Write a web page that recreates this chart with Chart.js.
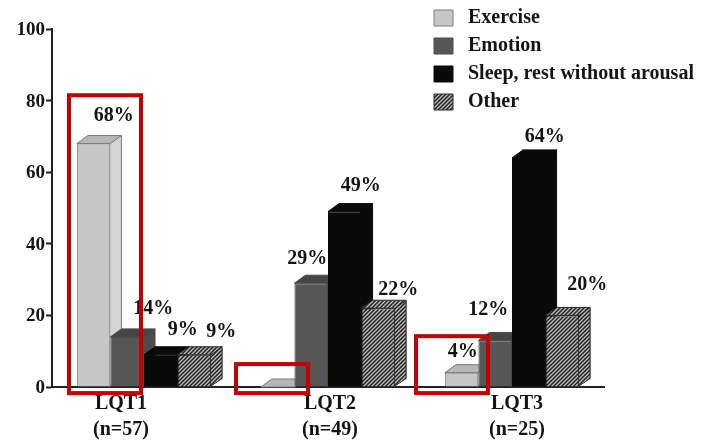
<!DOCTYPE html>
<html><head><meta charset="utf-8">
<script src="https://cdn.jsdelivr.net/npm/chart.js@4"></script>
<style>html,body{margin:0;padding:0;background:#fff}#w{width:711px;height:441px}</style>
</head><body><div id="w"><canvas id="c"></canvas></div>
<script>
const categories = [["LQT1","(n=57)"],["LQT2","(n=49)"],["LQT3","(n=25)"]];
const seriesNames = ["Exercise","Emotion","Sleep, rest without arousal","Other"];
const exercise = [68,0,4];
const emotion = [14,29,13];
const sleep = [9,49,64];
const other = [9,22,20];
const exerciseLabels = ["68%","","4%"];
const emotionLabels = ["14%","29%","12%"];
const sleepLabels = ["9%","49%","64%"];
const otherLabels = ["9%","22%","20%"];
const yTicks = [0,20,40,60,80,100];

const FONT = "'Liberation Serif'";
const INK = "#141414";
function hatch(){
  const s=4,p=document.createElement('canvas');p.width=p.height=s;
  const g=p.getContext('2d');g.fillStyle='#bcbcbc';g.fillRect(0,0,s,s);
  g.strokeStyle='#222222';g.lineWidth=1.5;
  g.beginPath();g.moveTo(-1,s+1);g.lineTo(s+1,-1);g.moveTo(-1,1);g.lineTo(1,-1);g.moveTo(s-1,s+1);g.lineTo(s+1,s-1);g.stroke();
  return g.createPattern(p,'repeat');
}
const hatchFill = hatch();
const faces = [
 {front:'#c6c6c6',top:'#b6b6b6',side:'#d4d4d4',line:'#7c7c7c'},
 {front:'#565656',top:'#454545',side:'#4c4c4c',line:'#4a4a4a'},
 {front:'#0a0a0a',top:'#0a0a0a',side:'#0a0a0a',line:'#0a0a0a'},
 {front:hatchFill,top:hatchFill,side:hatchFill,line:'#2a2a2a'}
];
const values=[exercise,emotion,sleep,other];
const labels=[exerciseLabels,emotionLabels,sleepLabels,otherLabels];
const DX=11,DY=8;
// label nudges from the bar's front top centre
const nudge=[
 [[20,-28],[0,0],[1,-21]],
 [[26,-28],[-4,-24],[-7,-31]],
 [[22,-25],[16,-26],[16,-21]],
 [[27,-23],[20,-18],[25,-31]]
];
const tickShift=[-23,2,5];
const marks=[
 {group:0,left:-75,right:-3,top:81.5,bottom:-1.7},
 {group:1,left:-92,right:-20,top:6.4,bottom:-1.7},
 {group:2,left:-96,right:-24,top:14.2,bottom:-1.7}
];
const threeD={
 id:'threeD',
 afterLayout(chart){
  const l=chart.legend;
  l.left=426;l.right=711;l.top=0;l.bottom=130;l.width=285;l.height=130;
 },
 beforeDatasetsDraw(chart){
  const ctx=chart.ctx;
  values.forEach((_,d)=>{
   const meta=chart.getDatasetMeta(d),f=faces[d];
   meta.data.forEach(b=>{
    const x0=b.x-b.width/2,x1=b.x+b.width/2,y0=b.y,y1=b.base;
    ctx.save();ctx.strokeStyle=f.line;ctx.lineWidth=1;ctx.lineJoin='round';
    ctx.fillStyle=f.side;ctx.beginPath();
    ctx.moveTo(x1-1,y0);ctx.lineTo(x1+DX,y0-DY);ctx.lineTo(x1+DX,y1-DY);ctx.lineTo(x1-1,y1);ctx.closePath();ctx.fill();ctx.stroke();
    ctx.fillStyle=f.top;ctx.beginPath();
    ctx.moveTo(x0,y0);ctx.lineTo(x0+DX,y0-DY);ctx.lineTo(x1+DX,y0-DY);ctx.lineTo(x1,y0);ctx.closePath();ctx.fill();ctx.stroke();
    ctx.restore();
    b.draw(ctx);
   });
  });
  return false;
 },
 beforeDraw(chart){
  const items=chart.scales.x.getLabelItems(chart.chartArea);
  if(!items._moved){items.forEach((it,i)=>{it.options.translation[0]+=tickShift[i];it.options.translation[1]+=1;});items._moved=true;}
  const yItems=chart.scales.y.getLabelItems(chart.chartArea);
  if(!yItems._moved){yItems.forEach(it=>{it.options.translation[1]+=1;});yItems._moved=true;}
 },
 afterDraw(chart){
  const ctx=chart.ctx,sx=chart.scales.x,sy=chart.scales.y;
  ctx.save();
  ctx.font="bold 20px "+FONT;ctx.fillStyle=INK;ctx.textAlign='center';ctx.textBaseline='middle';
  labels.forEach((row,d)=>{
   const meta=chart.getDatasetMeta(d);
   row.forEach((t,i)=>{
    if(!t)return;
    const b=meta.data[i];
    ctx.fillText(t,b.x+nudge[d][i][0],b.y+nudge[d][i][1]);
   });
  });
  ctx.strokeStyle='#c40000';ctx.lineWidth=4;ctx.lineJoin='miter';
  marks.forEach(m=>{
   const c=sx.getPixelForTick(m.group),t=sy.getPixelForValue(m.top),bt=sy.getPixelForValue(m.bottom);
   ctx.strokeRect(c+m.left,t,m.right-m.left,bt-t);
  });
  ctx.restore();
 }
};
new Chart(document.getElementById('c'),{
 type:'bar',
 data:{labels:categories,datasets:values.map((v,d)=>({
  label:seriesNames[d],data:v,backgroundColor:faces[d].front,borderColor:faces[d].line,borderWidth:1
 }))},
 plugins:[threeD],
 options:{
  responsive:true,maintainAspectRatio:false,animation:false,
  layout:{padding:{left:0,top:29,right:107,bottom:0}},
  datasets:{bar:{categoryPercentage:0.73,barPercentage:1}},
  plugins:{
   tooltip:{enabled:false},
   legend:{position:'chartArea',align:'start',labels:{
    boxWidth:19,boxHeight:16,padding:8,color:INK,
    font:{family:FONT,size:20,weight:'bold',lineHeight:1},
    generateLabels(chart){
     return Chart.defaults.plugins.legend.labels.generateLabels(chart).map(i=>({...i,text:' '+i.text}));
    }
   }}
  },
  scales:{
   x:{
    afterFit(s){s.height=54;},
    grid:{display:false,drawTicks:false},
    border:{display:true,color:'#222',width:2},
    ticks:{color:INK,padding:3,maxRotation:0,autoSkip:false,font:{family:FONT,size:20,weight:'bold',lineHeight:1.3}}
   },
   y:{
    min:0,max:100,
    afterFit(s){s.width=52;},
    afterBuildTicks(s){s.ticks=yTicks.map(value=>({value}));},
    grid:{drawOnChartArea:false,drawTicks:true,tickLength:6,color:'#222',tickWidth:2},
    border:{display:true,color:'#222',width:2},
    ticks:{color:INK,padding:1,font:{family:FONT,size:19,weight:'bold'}}
   }
  }
 }
});
</script></body></html>
